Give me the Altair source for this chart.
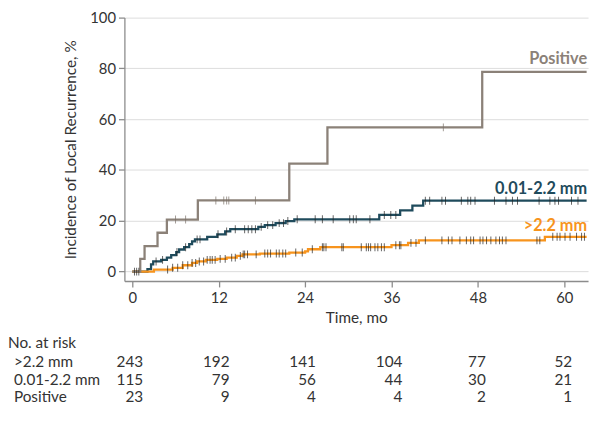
import altair as alt
import pandas as pd

FONT = "Lato"

# ---- data ----
months = [0, 12, 24, 36, 48, 60]

pos_t = [0, 1.1, 1.7, 3.5, 4.8, 9.1, 21.8, 27.1, 48.6, 63.1]
pos_v = [0, 5.0, 10.0, 15.3, 20.5, 28.0, 42.5, 56.8, 78.6, 78.6]
pos_cens = [6.0, 7.4, 11.6, 12.7, 13.1, 13.4, 17.1, 43.2]

mid_t = [0, 2.1, 2.6, 2.9, 4.0, 4.8, 5.4, 6.1, 6.5, 7.2, 7.9, 8.3, 8.7, 10.4, 11.8,
         12.9, 13.6, 17.5, 18.4, 19.9, 21.3, 22.5, 34.3, 37.2, 38.9, 40.4, 63.1]
mid_v = [0, 1.0, 2.8, 4.0, 4.6, 5.5, 6.5, 7.7, 8.7, 9.6, 10.8, 11.9, 12.7, 13.7, 14.7,
         15.8, 16.7, 17.6, 18.3, 19.1, 19.9, 20.6, 22.3, 24.1, 26.0, 27.9, 27.9]
mid_cens = [3.3, 4.2, 6.2, 7.4, 9.0, 9.4, 11.9, 13.1, 14.3, 15.6, 16.1, 16.6, 17.1, 17.9,
            18.8, 19.5, 20.4, 21.0, 21.6, 22.9, 25.4, 26.4, 27.9, 30.2, 30.7, 31.1, 33.0,
            35.0, 35.9, 36.6, 40.7, 41.3, 43.0, 43.5, 45.7, 46.6, 47.0, 47.6, 50.3, 51.9,
            52.8, 53.5, 56.5, 58.0, 58.7, 59.2, 61.0, 61.9]

gt_t = [0, 3.0, 5.6, 7.0, 8.3, 9.0, 10.2, 11.8, 13.1, 14.5, 15.3, 17.7, 21.8, 24.0, 24.4,
        26.1, 36.0, 38.3, 39.8, 57.3, 63.1]
gt_v = [0, 0.8, 1.5, 2.5, 3.4, 4.0, 4.6, 5.0, 5.5, 6.2, 6.8, 7.1, 7.5, 8.0, 8.8,
        9.6, 10.4, 11.3, 12.3, 13.7, 13.7]
gt_cens = [0.3, 0.6, 0.9, 4.9, 5.6, 6.3, 7.0, 7.7, 8.3, 8.8, 9.3, 9.9, 10.4, 10.8, 11.1,
           11.5, 12.2, 12.9, 13.8, 14.3, 15.0, 15.4, 15.6, 16.0, 17.2, 18.4, 18.8, 19.2,
           20.0, 20.4, 20.9, 21.3, 22.7, 23.6, 25.0, 26.4, 26.6, 26.9, 29.1, 29.3, 31.8,
           32.5, 32.8, 33.1, 33.7, 34.1, 34.6, 35.0, 36.6, 37.1, 37.3, 38.7, 39.4, 40.7,
           43.0, 43.9, 44.4, 45.5, 46.4, 47.0, 47.4, 48.3, 48.7, 49.2, 49.8, 50.5, 51.0,
           51.4, 51.9, 56.2, 56.6, 58.4, 59.0, 59.4, 60.1, 60.8, 61.7, 62.4, 62.8]

risk_labels = [">2.2 mm", "0.01-2.2 mm", "Positive"]
risk_gt = [243, 192, 141, 104, 77, 52]
risk_mid = [115, 79, 56, 44, 30, 21]
risk_pos = [23, 9, 4, 4, 2, 1]

end_labels = ["Positive", "0.01-2.2 mm", ">2.2 mm"]
end_label_v = [83.7, 32.3, 18.0]

C_POS = "#8b8178"
C_MID = "#1f4b5c"
C_GT = "#f7941d"
C_CENS = "#222222"
C_CENS_POS = "#7a7068"

x_scale = alt.Scale(domain=[-1.1, 63.3], nice=False, zero=False)
y_scale = alt.Scale(domain=[-3.7, 100], nice=False, zero=False)


def step_value(ts, vs, t):
    v = vs[0]
    for ti, vi in zip(ts, vs):
        if ti <= t:
            v = vi
    return v


def curve(ts, vs, color, with_axes=False):
    df = pd.DataFrame({"t": ts, "v": vs})
    if with_axes:
        x = alt.X("t:Q", scale=x_scale, title="Time, mo",
                  axis=alt.Axis(values=months, grid=False, tickSize=6, labelPadding=4,
                                titlePadding=5))
        y = alt.Y("v:Q", scale=y_scale, title="Incidence of Local Recurrence, %",
                  axis=alt.Axis(values=[0, 20, 40, 60, 80, 100], grid=True, tickSize=6,
                                labelPadding=3, titlePadding=11))
    else:
        x = alt.X("t:Q", scale=x_scale)
        y = alt.Y("v:Q", scale=y_scale)
    return alt.Chart(df).mark_line(interpolate="step-after", color=color,
                                   strokeWidth=2.3).encode(x=x, y=y)


def censors(ts, vs, cens, color):
    df = pd.DataFrame({"t": cens, "v": [step_value(ts, vs, c) for c in cens]})
    return alt.Chart(df).mark_tick(orient="vertical", size=8, thickness=1,
                                   color=color).encode(
        x=alt.X("t:Q", scale=x_scale), y=alt.Y("v:Q", scale=y_scale))


layers = [
    curve(mid_t, mid_v, C_MID, with_axes=True),
    curve(gt_t, gt_v, C_GT),
    curve(pos_t, pos_v, C_POS),
    censors(mid_t, mid_v, mid_cens, C_CENS),
    censors(gt_t, gt_v, gt_cens, C_CENS),
    censors(pos_t, pos_v, pos_cens, C_CENS_POS),
]

lab_df = pd.DataFrame({"label": end_labels, "v": end_label_v,
                       "c": [C_POS, C_MID, C_GT]})
layers.append(
    alt.Chart(lab_df).mark_text(align="right", baseline="middle", font=FONT,
                                fontSize=16.5, fontWeight="bold").encode(
        x=alt.value(469), y=alt.Y("v:Q", scale=y_scale), text="label:N",
        color=alt.Color("c:N", scale=None))
)

# ---- number at risk table ----
row_y = [349, 367, 385]
layers.append(
    alt.Chart(pd.DataFrame({"s": ["No. at risk"]})).mark_text(
        align="left", baseline="middle", font=FONT, fontSize=15.5, color="#333333").encode(
        x=alt.value(-118), y=alt.value(330), text="s:N")
)
for lab, vals, ry in zip(risk_labels, [risk_gt, risk_mid, risk_pos], row_y):
    layers.append(
        alt.Chart(pd.DataFrame({"s": [lab]})).mark_text(
            align="left", baseline="middle", font=FONT, fontSize=15.5, color="#333333").encode(
            x=alt.value(-112), y=alt.value(ry), text="s:N")
    )
    df = pd.DataFrame({"t": months, "n": [str(v) for v in vals]})
    layers.append(
        alt.Chart(df).transform_filter(alt.datum.t <= 36).mark_text(
            align="right", baseline="middle", font=FONT, fontSize=15.5, color="#333333",
            dx=11).encode(x=alt.X("t:Q", scale=x_scale), y=alt.value(ry), text="n:N")
    )
    layers.append(
        alt.Chart(df).transform_filter(alt.datum.t > 36).mark_text(
            align="right", baseline="middle", font=FONT, fontSize=15.5, color="#333333",
            dx=8).encode(x=alt.X("t:Q", scale=x_scale), y=alt.value(ry), text="n:N")
    )

chart = alt.layer(*layers).properties(
    width=470, height=267,
    autosize=alt.AutoSizeParams(type="none"),
    padding={"left": 118, "top": 7, "right": 4, "bottom": 126},
).configure_view(stroke=None).configure_axis(
    labelFont=FONT, titleFont=FONT, labelFontSize=15, titleFontSize=15.5,
    labelColor="#333333", titleColor="#333333", titleFontWeight="normal",
    domainColor="#8c8c8c", tickColor="#8c8c8c", domainWidth=1.3, tickWidth=1.3,
    gridColor="#dcdcdc", gridWidth=1,
)

chart.save("out.html", embed_options={"renderer": "svg", "actions": False})
